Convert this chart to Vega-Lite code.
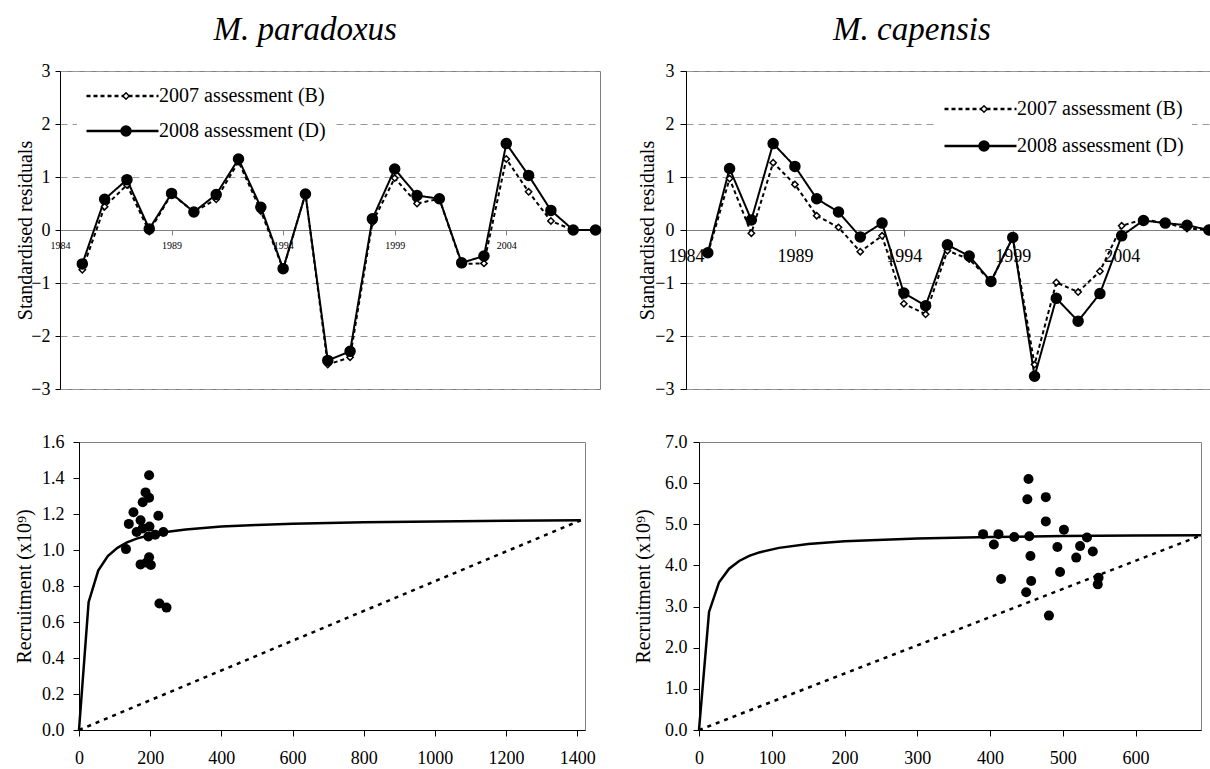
{
  "$schema": "https://vega.github.io/schema/vega-lite/v6.json",
  "background": "white",
  "padding": {"left": 13, "top": 13, "right": 2, "bottom": 0},
  "config": {
    "font": "Liberation Serif",
    "view": {"stroke": "#808080", "strokeWidth": 1},
    "axis": {"labelFont": "Liberation Serif", "titleFont": "Liberation Serif", "labelColor": "black", "titleColor": "black", "titleFontWeight": "normal", "labelFontSize": 18, "titleFontSize": 20, "domainColor": "black", "tickColor": "black", "grid": false, "labelFlush": false, "labelOverlap": false},
    "legend": {"labelFont": "Liberation Serif", "labelFontSize": 20, "labelColor": "black", "labelLimit": 400},
    "title": {"font": "Liberation Serif", "fontSize": 33, "fontStyle": "italic", "fontWeight": "normal", "color": "black", "frame": "bounds", "anchor": "middle"}
  },
  "datasets": {
    "resP": [
      {"year":1985,"residual":-0.75,"assessment":"2007 assessment (B)","run":"B"},
      {"year":1986,"residual":0.44,"assessment":"2007 assessment (B)","run":"B"},
      {"year":1987,"residual":0.85,"assessment":"2007 assessment (B)","run":"B"},
      {"year":1988,"residual":-0.03,"assessment":"2007 assessment (B)","run":"B"},
      {"year":1989,"residual":0.68,"assessment":"2007 assessment (B)","run":"B"},
      {"year":1990,"residual":0.34,"assessment":"2007 assessment (B)","run":"B"},
      {"year":1991,"residual":0.58,"assessment":"2007 assessment (B)","run":"B"},
      {"year":1992,"residual":1.29,"assessment":"2007 assessment (B)","run":"B"},
      {"year":1993,"residual":0.36,"assessment":"2007 assessment (B)","run":"B"},
      {"year":1994,"residual":-0.74,"assessment":"2007 assessment (B)","run":"B"},
      {"year":1995,"residual":0.68,"assessment":"2007 assessment (B)","run":"B"},
      {"year":1996,"residual":-2.54,"assessment":"2007 assessment (B)","run":"B"},
      {"year":1997,"residual":-2.40,"assessment":"2007 assessment (B)","run":"B"},
      {"year":1998,"residual":0.14,"assessment":"2007 assessment (B)","run":"B"},
      {"year":1999,"residual":0.98,"assessment":"2007 assessment (B)","run":"B"},
      {"year":2000,"residual":0.50,"assessment":"2007 assessment (B)","run":"B"},
      {"year":2001,"residual":0.59,"assessment":"2007 assessment (B)","run":"B"},
      {"year":2002,"residual":-0.64,"assessment":"2007 assessment (B)","run":"B"},
      {"year":2003,"residual":-0.63,"assessment":"2007 assessment (B)","run":"B"},
      {"year":2004,"residual":1.34,"assessment":"2007 assessment (B)","run":"B"},
      {"year":2005,"residual":0.72,"assessment":"2007 assessment (B)","run":"B"},
      {"year":2006,"residual":0.17,"assessment":"2007 assessment (B)","run":"B"},
      {"year":2007,"residual":0.00,"assessment":"2007 assessment (B)","run":"B"},
      {"year":2008,"residual":0.00,"assessment":"2007 assessment (B)","run":"B"},
      {"year":1985,"residual":-0.64,"assessment":"2008 assessment (D)","run":"D"},
      {"year":1986,"residual":0.58,"assessment":"2008 assessment (D)","run":"D"},
      {"year":1987,"residual":0.95,"assessment":"2008 assessment (D)","run":"D"},
      {"year":1988,"residual":0.02,"assessment":"2008 assessment (D)","run":"D"},
      {"year":1989,"residual":0.69,"assessment":"2008 assessment (D)","run":"D"},
      {"year":1990,"residual":0.34,"assessment":"2008 assessment (D)","run":"D"},
      {"year":1991,"residual":0.67,"assessment":"2008 assessment (D)","run":"D"},
      {"year":1992,"residual":1.34,"assessment":"2008 assessment (D)","run":"D"},
      {"year":1993,"residual":0.43,"assessment":"2008 assessment (D)","run":"D"},
      {"year":1994,"residual":-0.73,"assessment":"2008 assessment (D)","run":"D"},
      {"year":1995,"residual":0.68,"assessment":"2008 assessment (D)","run":"D"},
      {"year":1996,"residual":-2.46,"assessment":"2008 assessment (D)","run":"D"},
      {"year":1997,"residual":-2.29,"assessment":"2008 assessment (D)","run":"D"},
      {"year":1998,"residual":0.21,"assessment":"2008 assessment (D)","run":"D"},
      {"year":1999,"residual":1.15,"assessment":"2008 assessment (D)","run":"D"},
      {"year":2000,"residual":0.65,"assessment":"2008 assessment (D)","run":"D"},
      {"year":2001,"residual":0.59,"assessment":"2008 assessment (D)","run":"D"},
      {"year":2002,"residual":-0.62,"assessment":"2008 assessment (D)","run":"D"},
      {"year":2003,"residual":-0.49,"assessment":"2008 assessment (D)","run":"D"},
      {"year":2004,"residual":1.63,"assessment":"2008 assessment (D)","run":"D"},
      {"year":2005,"residual":1.03,"assessment":"2008 assessment (D)","run":"D"},
      {"year":2006,"residual":0.37,"assessment":"2008 assessment (D)","run":"D"},
      {"year":2007,"residual":0.00,"assessment":"2008 assessment (D)","run":"D"},
      {"year":2008,"residual":0.00,"assessment":"2008 assessment (D)","run":"D"}
    ],
    "resC": [
      {"year":1985,"residual":-0.45,"assessment":"2007 assessment (B)","run":"B"},
      {"year":1986,"residual":0.97,"assessment":"2007 assessment (B)","run":"B"},
      {"year":1987,"residual":-0.06,"assessment":"2007 assessment (B)","run":"B"},
      {"year":1988,"residual":1.27,"assessment":"2007 assessment (B)","run":"B"},
      {"year":1989,"residual":0.86,"assessment":"2007 assessment (B)","run":"B"},
      {"year":1990,"residual":0.27,"assessment":"2007 assessment (B)","run":"B"},
      {"year":1991,"residual":0.05,"assessment":"2007 assessment (B)","run":"B"},
      {"year":1992,"residual":-0.41,"assessment":"2007 assessment (B)","run":"B"},
      {"year":1993,"residual":-0.11,"assessment":"2007 assessment (B)","run":"B"},
      {"year":1994,"residual":-1.39,"assessment":"2007 assessment (B)","run":"B"},
      {"year":1995,"residual":-1.59,"assessment":"2007 assessment (B)","run":"B"},
      {"year":1996,"residual":-0.39,"assessment":"2007 assessment (B)","run":"B"},
      {"year":1997,"residual":-0.55,"assessment":"2007 assessment (B)","run":"B"},
      {"year":1998,"residual":-0.97,"assessment":"2007 assessment (B)","run":"B"},
      {"year":1999,"residual":-0.14,"assessment":"2007 assessment (B)","run":"B"},
      {"year":2000,"residual":-2.54,"assessment":"2007 assessment (B)","run":"B"},
      {"year":2001,"residual":-0.99,"assessment":"2007 assessment (B)","run":"B"},
      {"year":2002,"residual":-1.17,"assessment":"2007 assessment (B)","run":"B"},
      {"year":2003,"residual":-0.78,"assessment":"2007 assessment (B)","run":"B"},
      {"year":2004,"residual":0.08,"assessment":"2007 assessment (B)","run":"B"},
      {"year":2005,"residual":0.20,"assessment":"2007 assessment (B)","run":"B"},
      {"year":2006,"residual":0.13,"assessment":"2007 assessment (B)","run":"B"},
      {"year":2007,"residual":0.03,"assessment":"2007 assessment (B)","run":"B"},
      {"year":2008,"residual":0.00,"assessment":"2007 assessment (B)","run":"B"},
      {"year":1985,"residual":-0.43,"assessment":"2008 assessment (D)","run":"D"},
      {"year":1986,"residual":1.16,"assessment":"2008 assessment (D)","run":"D"},
      {"year":1987,"residual":0.19,"assessment":"2008 assessment (D)","run":"D"},
      {"year":1988,"residual":1.63,"assessment":"2008 assessment (D)","run":"D"},
      {"year":1989,"residual":1.20,"assessment":"2008 assessment (D)","run":"D"},
      {"year":1990,"residual":0.59,"assessment":"2008 assessment (D)","run":"D"},
      {"year":1991,"residual":0.34,"assessment":"2008 assessment (D)","run":"D"},
      {"year":1992,"residual":-0.13,"assessment":"2008 assessment (D)","run":"D"},
      {"year":1993,"residual":0.13,"assessment":"2008 assessment (D)","run":"D"},
      {"year":1994,"residual":-1.19,"assessment":"2008 assessment (D)","run":"D"},
      {"year":1995,"residual":-1.43,"assessment":"2008 assessment (D)","run":"D"},
      {"year":1996,"residual":-0.28,"assessment":"2008 assessment (D)","run":"D"},
      {"year":1997,"residual":-0.49,"assessment":"2008 assessment (D)","run":"D"},
      {"year":1998,"residual":-0.97,"assessment":"2008 assessment (D)","run":"D"},
      {"year":1999,"residual":-0.14,"assessment":"2008 assessment (D)","run":"D"},
      {"year":2000,"residual":-2.76,"assessment":"2008 assessment (D)","run":"D"},
      {"year":2001,"residual":-1.29,"assessment":"2008 assessment (D)","run":"D"},
      {"year":2002,"residual":-1.72,"assessment":"2008 assessment (D)","run":"D"},
      {"year":2003,"residual":-1.20,"assessment":"2008 assessment (D)","run":"D"},
      {"year":2004,"residual":-0.11,"assessment":"2008 assessment (D)","run":"D"},
      {"year":2005,"residual":0.18,"assessment":"2008 assessment (D)","run":"D"},
      {"year":2006,"residual":0.13,"assessment":"2008 assessment (D)","run":"D"},
      {"year":2007,"residual":0.09,"assessment":"2008 assessment (D)","run":"D"},
      {"year":2008,"residual":0.00,"assessment":"2008 assessment (D)","run":"D"}
    ],
    "srP": [
      {"ssb":0,"recruits":0},{"ssb":27,"recruits":0.71},{"ssb":54,"recruits":0.886},{"ssb":81,"recruits":0.966},
      {"ssb":108,"recruits":1.012},{"ssb":135,"recruits":1.042},{"ssb":162,"recruits":1.063},{"ssb":200,"recruits":1.083},
      {"ssb":250,"recruits":1.101},{"ssb":300,"recruits":1.114},{"ssb":400,"recruits":1.130},{"ssb":500,"recruits":1.139},
      {"ssb":600,"recruits":1.146},{"ssb":800,"recruits":1.154},{"ssb":1000,"recruits":1.159},{"ssb":1200,"recruits":1.163},
      {"ssb":1410,"recruits":1.165}
    ],
    "repP": [{"ssb":0,"recruits":0},{"ssb":1410,"recruits":1.165}],
    "obsP": [
      {"ssb":132,"recruits":1.005},{"ssb":140,"recruits":1.145},{"ssb":153,"recruits":1.21},{"ssb":162,"recruits":1.10},
      {"ssb":173,"recruits":1.165},{"ssb":179,"recruits":1.12},{"ssb":179,"recruits":1.265},{"ssb":187,"recruits":1.32},
      {"ssb":197,"recruits":1.29},{"ssb":197,"recruits":1.415},{"ssb":198,"recruits":1.13},{"ssb":195,"recruits":1.075},
      {"ssb":214,"recruits":1.085},{"ssb":223,"recruits":1.19},{"ssb":237,"recruits":1.10},{"ssb":173,"recruits":0.92},
      {"ssb":190,"recruits":0.93},{"ssb":197,"recruits":0.96},{"ssb":202,"recruits":0.917},{"ssb":226,"recruits":0.703},
      {"ssb":246,"recruits":0.68}
    ],
    "srC": [
      {"ssb":0,"recruits":0},{"ssb":13.8,"recruits":2.87},{"ssb":27.6,"recruits":3.592},{"ssb":41.4,"recruits":3.921},
      {"ssb":55.2,"recruits":4.109},{"ssb":69,"recruits":4.231},{"ssb":82.8,"recruits":4.316},{"ssb":110,"recruits":4.427},
      {"ssb":150,"recruits":4.52},{"ssb":200,"recruits":4.587},{"ssb":300,"recruits":4.656},{"ssb":400,"recruits":4.691},
      {"ssb":500,"recruits":4.713},{"ssb":600,"recruits":4.727},{"ssb":690,"recruits":4.736}
    ],
    "repC": [{"ssb":0,"recruits":0},{"ssb":690,"recruits":4.73}],
    "obsC": [
      {"ssb":390.5,"recruits":4.76},{"ssb":405.3,"recruits":4.51},{"ssb":411.6,"recruits":4.76},{"ssb":415.3,"recruits":3.67},
      {"ssb":433.3,"recruits":4.69},{"ssb":449.7,"recruits":3.35},{"ssb":451.3,"recruits":5.61},{"ssb":452.9,"recruits":6.10},
      {"ssb":454,"recruits":4.71},{"ssb":455.6,"recruits":4.23},{"ssb":456.6,"recruits":3.62},{"ssb":476.7,"recruits":5.66},
      {"ssb":476.7,"recruits":5.07},{"ssb":481,"recruits":2.78},{"ssb":492.6,"recruits":4.45},{"ssb":496.3,"recruits":3.84},
      {"ssb":501.6,"recruits":4.87},{"ssb":518.5,"recruits":4.19},{"ssb":523.8,"recruits":4.47},{"ssb":533.3,"recruits":4.68},
      {"ssb":541.3,"recruits":4.34},{"ssb":549.2,"recruits":3.70},{"ssb":548.1,"recruits":3.54}
    ],
    "blank": [{"none": 0}]
  },
  "spacing": 33,
  "resolve": {
    "scale": {"strokeDash": "independent", "shape": "independent", "fill": "independent", "size": "independent"},
    "legend": {"strokeDash": "independent", "shape": "independent", "fill": "independent", "size": "independent"}
  },
  "vconcat": [
    {
      "spacing": 31,
      "resolve": {
        "scale": {"strokeDash": "independent", "shape": "independent", "fill": "independent", "size": "independent"},
        "legend": {"strokeDash": "independent", "shape": "independent", "fill": "independent", "size": "independent"}
      },
      "hconcat": [
        {
          "title": {"text": "M. paradoxus", "offset": 15, "dx": -4},
          "width": 540, "height": 318,
          "data": {"name": "resP"},
          "layer": [
            {
              "mark": {"type": "line", "color": "black", "strokeWidth": 2},
              "encoding": {
                "x": {"field": "year", "type": "quantitative", "scale": {"domain": [1984, 2008.2], "nice": false, "zero": false},
                  "axis": {"values": [1984, 1989, 1994, 1999, 2004], "format": "d", "title": null, "offset": -159, "labelFontSize": 10, "labelPadding": 5, "tickSize": 5, "domainColor": "#808080", "tickColor": "#808080"}},
                "y": {"field": "residual", "type": "quantitative", "scale": {"domain": [-3, 3], "nice": false},
                  "axis": {"values": [-3, -2, -1, 0, 1, 2, 3], "format": "d", "tickCount": 20, "title": "Standardised residuals", "grid": true, "gridDash": [7, 5], "gridColor": "#999999", "tickSize": 5, "labelPadding": 5, "minExtent": 25, "maxExtent": 25, "titlePadding": 0, "labelOverlap": false}},
                "strokeDash": {"field": "assessment", "type": "nominal", "scale": {"range": [[4, 3], [1, 0]]},
                  "legend": {"title": null, "orient": "none", "legendX": 17, "legendY": 7, "symbolType": "M-1,0H7", "symbolSize": 324, "clipHeight": 20, "symbolStrokeWidth": 2.5, "symbolStrokeColor": "black", "symbolFillColor": "transparent", "labelOffset": 53, "rowPadding": 15, "padding": 8, "fillColor": "white", "zindex": 0}}
              }
            },
            {
              "mark": {"type": "point", "filled": true, "opacity": 1, "stroke": "black", "strokeWidth": 1.5},
              "encoding": {
                "x": {"field": "year", "type": "quantitative"},
                "y": {"field": "residual", "type": "quantitative"},
                "shape": {"field": "run", "type": "nominal", "scale": {"range": ["diamond", "circle"]},
                  "legend": {"title": null, "orient": "none", "legendX": 48, "legendY": 7, "clipHeight": 20, "rowPadding": 15, "padding": 8, "labelColor": "transparent", "zindex": 2, "encode": {"symbols": {"update": {"stroke": {"value": "black"}, "strokeWidth": {"value": 1.5}}}}}},
                "fill": {"field": "run", "type": "nominal", "scale": {"range": ["white", "black"]},
                  "legend": {"title": null, "orient": "none", "legendX": 48, "legendY": 7, "clipHeight": 20, "rowPadding": 15, "padding": 8, "labelColor": "transparent", "zindex": 2, "encode": {"symbols": {"update": {"stroke": {"value": "black"}, "strokeWidth": {"value": 1.5}}}}}},
                "size": {"field": "run", "type": "nominal", "scale": {"range": [40, 100]},
                  "legend": {"title": null, "orient": "none", "legendX": 48, "legendY": 7, "clipHeight": 20, "rowPadding": 15, "padding": 8, "labelColor": "transparent", "zindex": 2, "encode": {"symbols": {"update": {"stroke": {"value": "black"}, "strokeWidth": {"value": 1.5}}}}}}
              }
            }
          ]
        },
        {
          "title": {"text": "M. capensis", "offset": 15, "dx": -15},
          "width": 525, "height": 318,
          "data": {"name": "resC"},
          "layer": [
            {
              "mark": {"type": "line", "color": "black", "strokeWidth": 2},
              "encoding": {
                "x": {"field": "year", "type": "quantitative", "scale": {"domain": [1984, 2008.1], "nice": false, "zero": false},
                  "axis": {"values": [1984, 1989, 1994, 1999, 2004], "format": "d", "title": null, "offset": -159, "labelFontSize": 18, "labelPadding": 11, "tickSize": 6, "domainColor": "#808080", "tickColor": "#808080"}},
                "y": {"field": "residual", "type": "quantitative", "scale": {"domain": [-3, 3], "nice": false},
                  "axis": {"values": [-3, -2, -1, 0, 1, 2, 3], "format": "d", "tickCount": 20, "title": "Standardised residuals", "grid": true, "gridDash": [7, 5], "gridColor": "#999999", "tickSize": 6, "labelPadding": 6, "minExtent": 27, "maxExtent": 27, "titlePadding": 2, "labelOverlap": false}},
                "strokeDash": {"field": "assessment", "type": "nominal", "scale": {"range": [[4, 3], [1, 0]]},
                  "legend": {"title": null, "orient": "none", "legendX": 249, "legendY": 20, "symbolType": "M-1,0H7", "symbolSize": 324, "clipHeight": 20, "symbolStrokeWidth": 2.5, "symbolStrokeColor": "black", "symbolFillColor": "transparent", "labelOffset": 53, "rowPadding": 17, "padding": 8, "fillColor": "white", "zindex": 0}}
              }
            },
            {
              "mark": {"type": "point", "filled": true, "opacity": 1, "stroke": "black", "strokeWidth": 1.5},
              "encoding": {
                "x": {"field": "year", "type": "quantitative"},
                "y": {"field": "residual", "type": "quantitative"},
                "shape": {"field": "run", "type": "nominal", "scale": {"range": ["diamond", "circle"]},
                  "legend": {"title": null, "orient": "none", "legendX": 280, "legendY": 20, "clipHeight": 20, "rowPadding": 17, "padding": 8, "labelColor": "transparent", "zindex": 2, "encode": {"symbols": {"update": {"stroke": {"value": "black"}, "strokeWidth": {"value": 1.5}}}}}},
                "fill": {"field": "run", "type": "nominal", "scale": {"range": ["white", "black"]},
                  "legend": {"title": null, "orient": "none", "legendX": 280, "legendY": 20, "clipHeight": 20, "rowPadding": 17, "padding": 8, "labelColor": "transparent", "zindex": 2, "encode": {"symbols": {"update": {"stroke": {"value": "black"}, "strokeWidth": {"value": 1.5}}}}}},
                "size": {"field": "run", "type": "nominal", "scale": {"range": [40, 100]},
                  "legend": {"title": null, "orient": "none", "legendX": 280, "legendY": 20, "clipHeight": 20, "rowPadding": 17, "padding": 8, "labelColor": "transparent", "zindex": 2, "encode": {"symbols": {"update": {"stroke": {"value": "black"}, "strokeWidth": {"value": 1.5}}}}}}
              }
            }
          ]
        }
      ]
    },
    {
      "spacing": -51,
      "hconcat": [
        {
          "width": 1, "height": 1,
          "data": {"name": "blank"},
          "view": {"stroke": null},
          "mark": {"type": "point", "opacity": 0},
          "encoding": {}
        },
        {
          "spacing": 36,
          "hconcat": [
            {
              "width": 506, "height": 288,
              "layer": [
                {
                  "data": {"name": "srP"},
                  "mark": {"type": "line", "color": "black", "strokeWidth": 2.5},
                  "encoding": {
                    "x": {"field": "ssb", "type": "quantitative", "scale": {"domain": [0, 1422], "nice": false},
                      "axis": {"values": [0, 200, 400, 600, 800, 1000, 1200, 1400], "format": "d", "title": null, "tickSize": 6, "labelPadding": 13, "labelOverlap": false, "tickCount": 20}},
                    "y": {"field": "recruits", "type": "quantitative", "scale": {"domain": [0, 1.6], "nice": false},
                      "axis": {"values": [0, 0.2, 0.4, 0.6, 0.8, 1.0, 1.2, 1.4, 1.6], "format": ".1f", "title": "Recruitment (x10⁹)", "tickSize": 6, "labelPadding": 9, "minExtent": 39, "maxExtent": 39, "titlePadding": 6, "labelOverlap": false, "tickCount": 20}}
                  }
                },
                {
                  "data": {"name": "repP"},
                  "mark": {"type": "line", "color": "black", "strokeWidth": 2.5, "strokeDash": [4, 5]},
                  "encoding": {
                    "x": {"field": "ssb", "type": "quantitative"},
                    "y": {"field": "recruits", "type": "quantitative"}
                  }
                },
                {
                  "data": {"name": "obsP"},
                  "mark": {"type": "point", "filled": true, "opacity": 1, "color": "black", "size": 100},
                  "encoding": {
                    "x": {"field": "ssb", "type": "quantitative"},
                    "y": {"field": "recruits", "type": "quantitative"}
                  }
                }
              ]
            },
            {
              "width": 502, "height": 288,
              "layer": [
                {
                  "data": {"name": "srC"},
                  "mark": {"type": "line", "color": "black", "strokeWidth": 2.5},
                  "encoding": {
                    "x": {"field": "ssb", "type": "quantitative", "scale": {"domain": [0, 690], "nice": false},
                      "axis": {"values": [0, 100, 200, 300, 400, 500, 600], "format": "d", "title": null, "tickSize": 6, "labelPadding": 13, "labelOverlap": false, "tickCount": 20}},
                    "y": {"field": "recruits", "type": "quantitative", "scale": {"domain": [0, 7], "nice": false},
                      "axis": {"values": [0, 1, 2, 3, 4, 5, 6, 7], "format": ".1f", "title": "Recruitment (x10⁹)", "tickSize": 6, "labelPadding": 6, "minExtent": 35, "maxExtent": 35, "titlePadding": 11, "labelOverlap": false, "tickCount": 20}}
                  }
                },
                {
                  "data": {"name": "repC"},
                  "mark": {"type": "line", "color": "black", "strokeWidth": 2.5, "strokeDash": [4, 5]},
                  "encoding": {
                    "x": {"field": "ssb", "type": "quantitative"},
                    "y": {"field": "recruits", "type": "quantitative"}
                  }
                },
                {
                  "data": {"name": "obsC"},
                  "mark": {"type": "point", "filled": true, "opacity": 1, "color": "black", "size": 100},
                  "encoding": {
                    "x": {"field": "ssb", "type": "quantitative"},
                    "y": {"field": "recruits", "type": "quantitative"}
                  }
                }
              ]
            }
          ]
        }
      ]
    }
  ]
}
